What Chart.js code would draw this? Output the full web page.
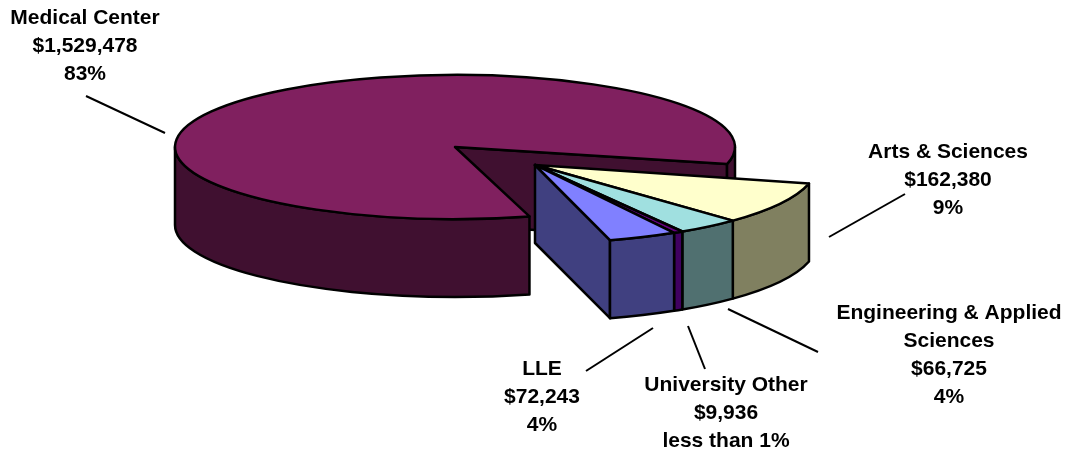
<!DOCTYPE html>
<html><head><meta charset="utf-8">
<style>html,body{margin:0;padding:0;background:#fff}canvas{display:block}</style>
<script src="https://cdn.jsdelivr.net/npm/chart.js@4"></script>
</head><body><canvas id="c" width="1070" height="452"></canvas>
<script>
const categories = ['Arts & Sciences','Engineering & Applied Sciences','University Other','LLE','Medical Center'];
const amounts = [162380,66725,9936,72243,1529478];
const amountLabels = ['$162,380','$66,725','$9,936','$72,243','$1,529,478'];
const shareLabels = ['9%','4%','less than 1%','4%','83%'];

const topColors = ['#FFFFCC','#A0E0E0','#660080','#8080FF','#80205F'];
const wallColors = ['#808060','#507070','#400060','#404080','#401030'];
const labelLines = [
  ['Arts & Sciences'],['Engineering & Applied','Sciences'],['University Other'],['LLE'],['Medical Center']];
const labelX = [948,949,726,542,85];
const labelY = [152,313,385,369,18];
const leaders = [[829,237,905,194],[728,309,818,352],[688,326,705,369],[653,328,586,371],[86,96,165,133]];
const RX=280, RY=72, DEPTH=78, EX=80, EY=18, GROUP_RX=282, GROUP_RY=78;

const pie3d = {
  id:'pie3d',
  beforeDatasetsDraw(chart){
    const ctx=chart.ctx, arcs=chart.getDatasetMeta(0).data;
    const geo=arcs.map(a=>a.getProps(['x','y','startAngle','endAngle','outerRadius'],true));
    const n=geo.length, T=Math.PI*2;
    ctx.save();
    ctx.lineJoin='round'; ctx.strokeStyle='#000'; ctx.lineWidth=2.5;
    const isMain=i=>i===n-1;
    const centre=(g,i)=>isMain(i)?[g.x,g.y]:[g.x+EX,g.y+EY];
    const rx=i=>isMain(i)?RX:GROUP_RX, ry=i=>isMain(i)?RY:GROUP_RY;
    const wall=(g,i)=>{
      const [cx,cy]=centre(g,i);
      [[0,Math.PI],[T,T+Math.PI]].forEach(([lo,hi])=>{
        const a=Math.max(g.startAngle,lo), b=Math.min(g.endAngle,hi);
        if(b<=a) return;
        ctx.beginPath();
        ctx.ellipse(cx,cy,rx(i),ry(i),0,a,b);
        ctx.ellipse(cx,cy+DEPTH,rx(i),ry(i),0,b,a,true);
        ctx.closePath();
        ctx.fillStyle=wallColors[i]; ctx.fill(); ctx.stroke();
      });
    };
    const endFace=(g,i)=>{
      const [cx,cy]=centre(g,i);
      const x=cx+rx(i)*Math.cos(g.endAngle), y=cy+ry(i)*Math.sin(g.endAngle);
      ctx.beginPath();
      ctx.moveTo(cx,cy); ctx.lineTo(x,y); ctx.lineTo(x,y+DEPTH); ctx.lineTo(cx,cy+DEPTH);
      ctx.closePath();
      ctx.fillStyle=wallColors[i]; ctx.fill(); ctx.stroke();
    };
    const top=(g,i)=>{
      const [cx,cy]=centre(g,i);
      ctx.beginPath();
      ctx.moveTo(cx,cy);
      ctx.ellipse(cx,cy,rx(i),ry(i),0,g.startAngle,g.endAngle);
      ctx.closePath();
      ctx.fillStyle=topColors[i]; ctx.fill(); ctx.stroke();
    };
    const m=n-1;
    endFace(geo[m],m); wall(geo[m],m); top(geo[m],m);
    endFace(geo[m-1],m-1);
    for(let i=0;i<m;i++) wall(geo[i],i);
    for(let i=0;i<m;i++) top(geo[i],i);

    ctx.lineWidth=2; ctx.strokeStyle='#000';
    leaders.forEach(l=>{ctx.beginPath();ctx.moveTo(l[0],l[1]);ctx.lineTo(l[2],l[3]);ctx.stroke();});
    ctx.fillStyle='#000'; ctx.textAlign='center'; ctx.textBaseline='middle';
    ctx.font='bold 21px "Liberation Sans", Arial, sans-serif';
    categories.forEach((_,i)=>{
      const lines=[...labelLines[i],amountLabels[i],shareLabels[i]];
      lines.forEach((t,k)=>ctx.fillText(t,labelX[i],labelY[i]+k*28));
    });
    ctx.restore();
    return false;
  }
};
new Chart(document.getElementById('c'),{
  type:'pie',
  data:{labels:categories,datasets:[{data:amounts,backgroundColor:topColors,borderWidth:0}]},
  options:{
    responsive:false,animation:false,rotation:103.7,
    layout:{padding:{left:0,right:160,top:0,bottom:158}},
    plugins:{legend:{display:false},tooltip:{enabled:false}}
  },
  plugins:[pie3d]
});
</script></body></html>
